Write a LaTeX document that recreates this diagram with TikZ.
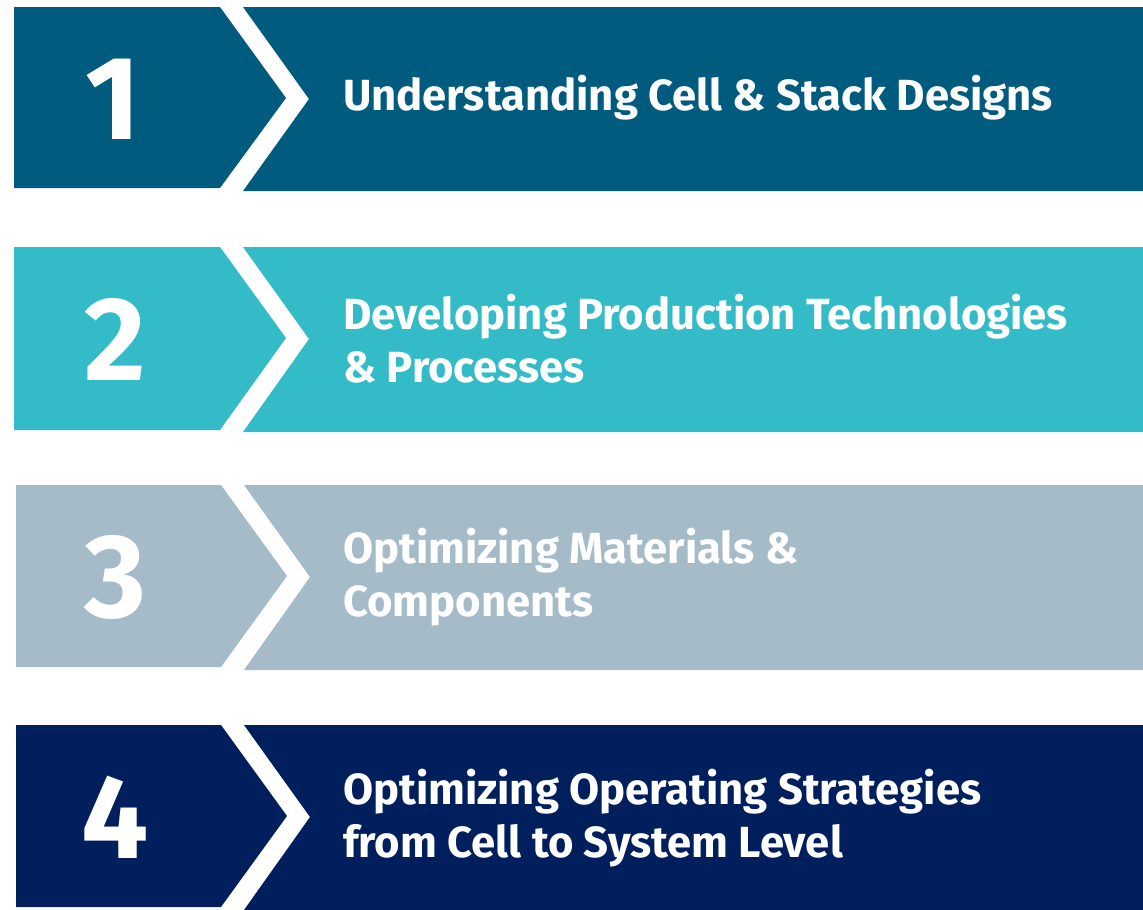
\documentclass[tikz,border=0pt]{standalone}
\usepackage{fontspec}
\setmainfont{Fira Sans}
\definecolor{bandone}{RGB}{0,91,127}
\definecolor{bandtwo}{RGB}{51,187,200}
\definecolor{bandthree}{RGB}{166,187,200}
\definecolor{bandfour}{RGB}{0,31,92}
\begin{document}
\begin{tikzpicture}[x=1pt, y=-1pt,
    stepnum/.style={text=white, font=\fontsize{119}{119}\selectfont\bfseries},
    steptext/.style={text=white, anchor=west, align=left, inner sep=0pt,
        font=\fontsize{43.6}{53}\selectfont\bfseries}]
    \useasboundingbox (0,0) rectangle (1143,910);

    % Band 1
    \fill[bandone] (14,7) -- (220,7) -- (286,98) -- (220,188) -- (14,188) -- cycle;
    \fill[bandone] (243,7) -- (1143,7) -- (1143,191) -- (243,191) -- (309,99) -- cycle;
    \node[stepnum] (num1) at (113,99) {1};
    \node[steptext] (text1) at (343,98) {Understanding Cell \& Stack Designs};

    % Band 2
    \fill[bandtwo] (14,247) -- (220,247) -- (286,338) -- (220,430) -- (14,430) -- cycle;
    \fill[bandtwo] (243,247) -- (1143,247) -- (1143,432) -- (243,432) -- (309,339) -- cycle;
    \node[stepnum] (num2) at (115,339) {2};
    \node[steptext] (text2) at (343,339) {Developing Production Technologies\\\& Processes};

    % Band 3
    \fill[bandthree] (16,485) -- (221,485) -- (287,576) -- (221,667) -- (16,667) -- cycle;
    \fill[bandthree] (244,485) -- (1143,485) -- (1143,670) -- (244,670) -- (310,577) -- cycle;
    \node[stepnum] (num3) at (115,577) {3};
    \node[steptext] (text3) at (343,577) {Optimizing Materials \&\\Components};

    % Band 4
    \fill[bandfour] (16,725) -- (221,725) -- (287,816) -- (221,907) -- (16,907) -- cycle;
    \fill[bandfour] (244,725) -- (1143,725) -- (1143,910) -- (244,910) -- (310,817) -- cycle;
    \node[stepnum] (num4) at (115,817) {4};
    \node[steptext] (text4) at (343,818) {Optimizing Operating Strategies\\from Cell to System Level};
\end{tikzpicture}
\end{document}
